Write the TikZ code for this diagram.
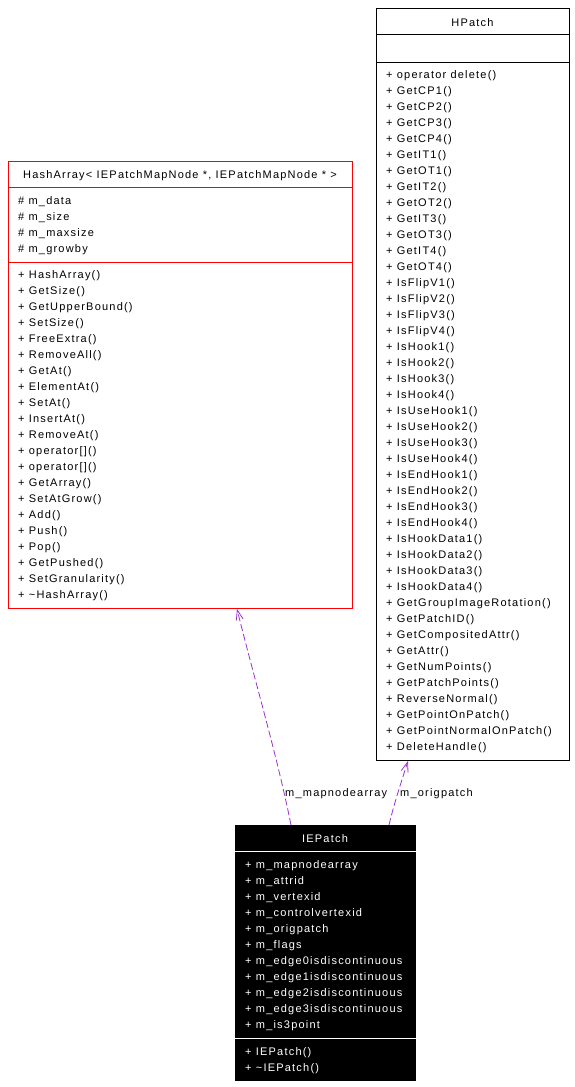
\documentclass[tikz,border=0pt]{standalone}
\usepackage{fontspec}
\setmainfont{Liberation Sans}[LetterSpace=11]
\usetikzlibrary{arrows.meta}
\definecolor{edgepurple}{HTML}{9A32CD}
\newcommand{\umlfont}{\fontsize{11}{16}\selectfont}

\begin{document}
\begin{tikzpicture}[x=1pt,y=-1pt,>={Straight Barb[length=10pt,width=7pt]},
  frame/.style={draw,line width=0.9pt,inner sep=0pt,anchor=north west},
  title/.style={anchor=base,inner sep=0pt,font=\umlfont},
  member/.style={anchor=base west,inner sep=0pt,font=\umlfont},
  relation/.style={->,edgepurple,line width=0.8pt,dash pattern=on 7pt off 3pt},
  role/.style={anchor=base west,inner sep=0pt,font=\umlfont}]
  \useasboundingbox (0,0) rectangle (575,1087);

  % HPatch
  \node[frame,minimum width=193pt,minimum height=752pt] (hpatch) at (376,8) {};
  \node[title] (hpatch-name) at (472.5,26) {HPatch};
  \draw[line width=0.9pt] (hpatch.west |- 0,34) -- (hpatch.east |- 0,34);
  \draw[line width=0.9pt] (hpatch.west |- 0,62) -- (hpatch.east |- 0,62);
  \foreach \m [count=\i from 0] in {operator delete(),GetCP1(),GetCP2(),GetCP3(),GetCP4(),
      GetIT1(),GetOT1(),GetIT2(),GetOT2(),GetIT3(),GetOT3(),GetIT4(),GetOT4(),
      IsFlipV1(),IsFlipV2(),IsFlipV3(),IsFlipV4(),IsHook1(),IsHook2(),IsHook3(),IsHook4(),
      IsUseHook1(),IsUseHook2(),IsUseHook3(),IsUseHook4(),
      IsEndHook1(),IsEndHook2(),IsEndHook3(),IsEndHook4(),
      IsHookData1(),IsHookData2(),IsHookData3(),IsHookData4(),
      GetGroupImageRotation(),GetPatchID(),GetCompositedAttr(),GetAttr(),GetNumPoints(),
      GetPatchPoints(),ReverseNormal(),GetPointOnPatch(),GetPointNormalOnPatch(),DeleteHandle()}
    \node[member] (hpatch-op\i) at (386,78+16*\i) {+ \m};

  % HashArray
  \node[frame,red,minimum width=344pt,minimum height=447pt] (hasharray) at (8,161) {};
  \node[title] (hasharray-name) at (180,178) {HashArray< IEPatchMapNode *, IEPatchMapNode * >};
  \draw[red,line width=0.9pt] (hasharray.west |- 0,187) -- (hasharray.east |- 0,187);
  \draw[red,line width=0.9pt] (hasharray.west |- 0,262) -- (hasharray.east |- 0,262);
  \foreach \a [count=\i from 0] in {m\_data,m\_size,m\_maxsize,m\_growby}
    \node[member] (hasharray-at\i) at (18,204+16*\i) {\# \a};
  \foreach \m [count=\i from 0] in {HashArray(),GetSize(),GetUpperBound(),SetSize(),FreeExtra(),
      RemoveAll(),GetAt(),ElementAt(),SetAt(),InsertAt(),RemoveAt(),operator[](),operator[](),
      GetArray(),SetAtGrow(),Add(),Push(),Pop(),GetPushed(),SetGranularity(),\textasciitilde HashArray()}
    \node[member] (hasharray-op\i) at (18,278+16*\i) {+ \m};

  % IEPatch
  \node[frame,fill=black,minimum width=180pt,minimum height=255pt] (iepatch) at (235,825) {};
  \node[title,white] (iepatch-name) at (325,842) {IEPatch};
  \draw[white,line width=0.9pt] (iepatch.west |- 0,851) -- (iepatch.east |- 0,851);
  \draw[white,line width=0.9pt] (iepatch.west |- 0,1038) -- (iepatch.east |- 0,1038);
  \foreach \a [count=\i from 0] in {m\_mapnodearray,m\_attrid,m\_vertexid,m\_controlvertexid,
      m\_origpatch,m\_flags,m\_edge0isdiscontinuous,m\_edge1isdiscontinuous,
      m\_edge2isdiscontinuous,m\_edge3isdiscontinuous,m\_is3point}
    \node[member,white] (iepatch-at\i) at (245,868+16*\i) {+ \a};
  \foreach \m [count=\i from 0] in {IEPatch(),\textasciitilde IEPatch()}
    \node[member,white] (iepatch-op\i) at (245,1055+16*\i) {+ \m};

  % relations
  \draw[relation] (iepatch.north -| 291,0) .. controls (277,755) and (254,678) .. (hasharray.south -| 237,0);
  \draw[relation] (iepatch.north -| 389,0) .. controls (395,800) and (402,780) .. (hpatch.south -| 408,0);
  \node[role] (role-map) at (285,796) {m\_mapnodearray};
  \node[role] (role-orig) at (400,796) {m\_origpatch};
\end{tikzpicture}
\end{document}
